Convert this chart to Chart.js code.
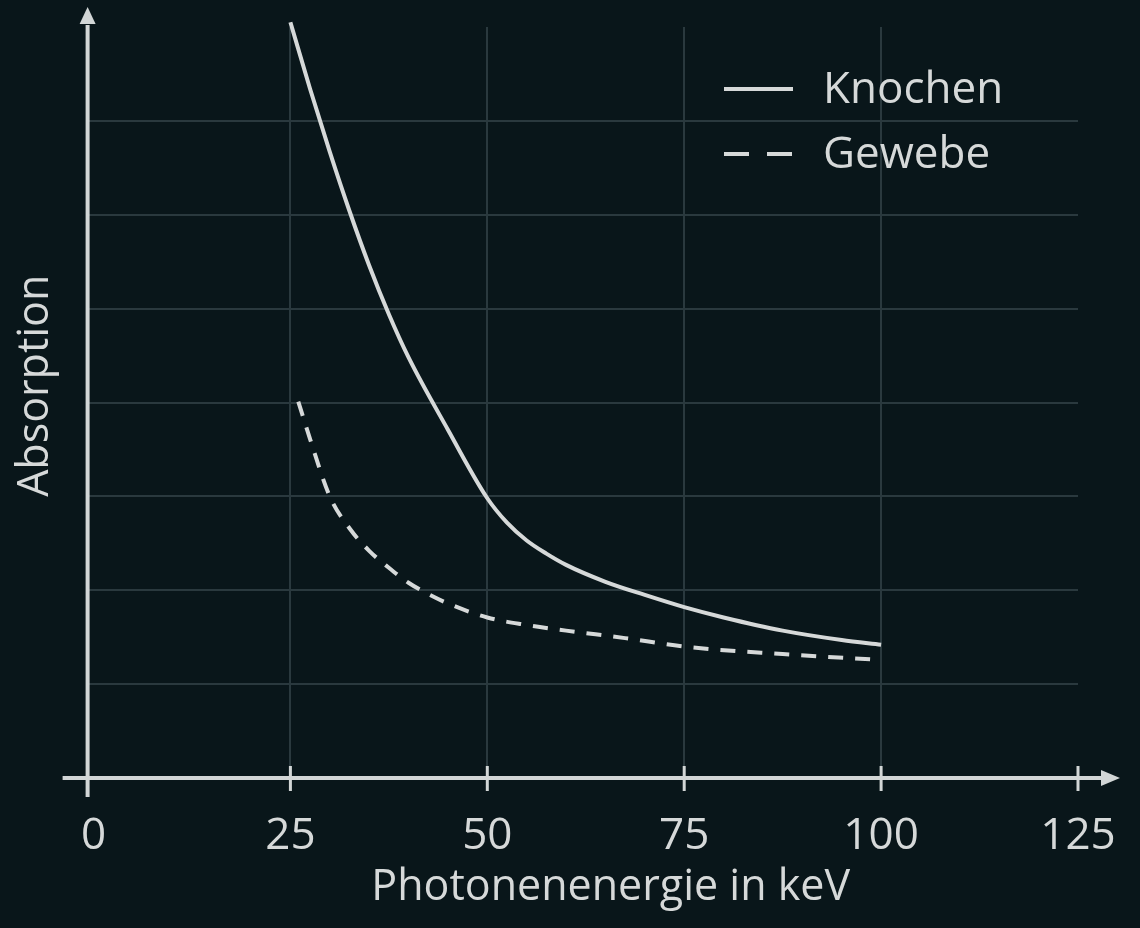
<!DOCTYPE html>
<html lang="de">
<head>
<meta charset="utf-8">
<title>Absorption</title>
<script src="https://cdn.jsdelivr.net/npm/chart.js@4"></script>
<style>
  html, body { margin: 0; padding: 0; background: #09161a; }
  #wrap { width: 1140px; height: 928px; }
</style>
</head>
<body>
<div id="wrap"><canvas id="chart" width="1140" height="928"></canvas></div>
<script>
// Tick labels of the energy axis
const xTicks = [0, 25, 50, 75, 100, 125];

// Knochen (solid line)
const knochenX = [25, 27.5, 30, 32.5, 35, 37.5, 40, 45, 50, 52.5, 55, 57.5, 60, 65, 70, 75, 80, 87.5, 95, 100];
const knochenY = [8.05, 7.34, 6.67, 6.04, 5.46, 4.94, 4.48, 3.71, 2.98, 2.72, 2.53, 2.39, 2.27, 2.09, 1.95, 1.82, 1.71, 1.57, 1.47, 1.42];

// Gewebe (dashed line)
const gewebeX = [26, 27.5, 30, 32.5, 35, 37.5, 40, 42.5, 45, 50, 55, 60, 67.5, 75, 87.5, 99.5];
const gewebeY = [4.01, 3.61, 3.00, 2.66, 2.42, 2.24, 2.08, 1.96, 1.86, 1.71, 1.63, 1.57, 1.49, 1.40, 1.32, 1.26];

const FG = '#d6d9d9';
const GRID = '#2a393e';
const FONT = '"Open Sans", "Noto Sans", sans-serif';

function toPoints(xs, ys) {
    return xs.map((x, i) => ({ x: x, y: ys[i] }));
}

// Draws both axes with arrow heads and the small ticks on the x axis
const axisArrows = {
    id: 'axisArrows',
    beforeDatasetsDraw(chart, args, opts) {
        const { ctx, chartArea } = chart;
        const xs = chart.scales.x, ys = chart.scales.y;
        const left = chartArea.left;
        const y0 = ys.getPixelForValue(0);
        ctx.save();
        ctx.strokeStyle = opts.color;
        ctx.fillStyle = opts.color;
        ctx.lineWidth = 4;
        ctx.lineCap = 'butt';

        // x axis
        ctx.beginPath();
        ctx.moveTo(left - 25, y0);
        ctx.lineTo(chartArea.right + 26, y0);
        ctx.stroke();
        ctx.beginPath();
        ctx.moveTo(chartArea.right + 42, y0);
        ctx.lineTo(chartArea.right + 23, y0 - 8);
        ctx.lineTo(chartArea.right + 23, y0 + 8);
        ctx.closePath();
        ctx.fill();

        // y axis
        ctx.beginPath();
        ctx.moveTo(left, y0 + 19);
        ctx.lineTo(left, chartArea.top - 2);
        ctx.stroke();
        ctx.beginPath();
        ctx.moveTo(left, chartArea.top - 20);
        ctx.lineTo(left - 8, chartArea.top - 3);
        ctx.lineTo(left + 8, chartArea.top - 3);
        ctx.closePath();
        ctx.fill();

        // ticks
        ctx.lineWidth = 3;
        xs.ticks.forEach(t => {
            if (t.value <= 0) return;
            const px = xs.getPixelForValue(t.value);
            ctx.beginPath();
            ctx.moveTo(px, y0 - 12);
            ctx.lineTo(px, y0 + 13);
            ctx.stroke();
        });
        ctx.restore();
    }
};

// Legend drawn inside the plot, top right
const plotLegend = {
    id: 'plotLegend',
    afterDatasetsDraw(chart, args, opts) {
        const { ctx } = chart;
        ctx.save();
        ctx.font = opts.font;
        ctx.textBaseline = 'middle';
        ctx.textAlign = 'left';
        chart.data.datasets.forEach((ds, i) => {
            const y = opts.top + i * opts.rowGap;
            ctx.strokeStyle = ds.borderColor;
            ctx.lineWidth = ds.borderWidth;
            ctx.setLineDash(ds.legendDash || []);
            ctx.beginPath();
            ctx.moveTo(opts.left, y);
            ctx.lineTo(opts.left + opts.lineWidth, y);
            ctx.stroke();
            ctx.setLineDash([]);
            ctx.fillStyle = opts.color;
            ctx.fillText(ds.label, opts.left + opts.lineWidth + 30, y + 1);
        });
        ctx.restore();
    }
};

const chart = new Chart(document.getElementById('chart'), {
    type: 'line',
    data: {
        datasets: [
            {
                label: 'Knochen',
                data: toPoints(knochenX, knochenY),
                borderColor: FG,
                borderWidth: 4,
                pointRadius: 0,
                cubicInterpolationMode: 'monotone',
                clip: false,
                legendDash: []
            },
            {
                label: 'Gewebe',
                data: toPoints(gewebeX, gewebeY),
                borderColor: FG,
                borderWidth: 4,
                borderDash: [15, 12],
                pointRadius: 0,
                cubicInterpolationMode: 'monotone',
                clip: false,
                legendDash: [25, 18]
            }
        ]
    },
    plugins: [axisArrows, plotLegend],
    options: {
        responsive: false,
        animation: false,
        events: [],
        layout: { padding: { top: 27, right: 62, left: 0, bottom: 0 } },
        plugins: {
            legend: { display: false },
            tooltip: { enabled: false },
            axisArrows: { color: '#d2d6d6' },
            plotLegend: { left: 724, top: 89, rowGap: 65, lineWidth: 69, color: FG, font: '44px ' + FONT }
        },
        scales: {
            x: {
                type: 'linear',
                min: -0.75,
                max: 125,
                afterBuildTicks: scale => { scale.ticks = xTicks.map(v => ({ value: v })); },
                afterFit: scale => {
                    scale.height = 150;
                    scale.paddingLeft = 0;
                    scale.paddingRight = 0;
                },
                border: { display: false },
                grid: {
                    drawTicks: false,
                    lineWidth: 2,
                    color: c => (c.tick && c.tick.value > 0 && c.tick.value < 125) ? GRID : 'transparent'
                },
                ticks: {
                    padding: 32,
                    color: FG,
                    font: { family: FONT, size: 44 },
                    maxRotation: 0,
                    autoSkip: false
                },
                title: {
                    display: true,
                    text: '     Photonenenergie in keV',
                    color: FG,
                    font: { family: FONT, size: 43 },
                    padding: { top: 3, bottom: 14 }
                }
            },
            y: {
                type: 'linear',
                min: 0,
                max: 8,
                border: { display: false },
                grid: {
                    drawTicks: false,
                    lineWidth: 2,
                    color: c => (c.tick && c.tick.value > 0 && c.tick.value < 8) ? GRID : 'transparent'
                },
                ticks: { display: false, stepSize: 1 },
                title: {
                    display: true,
                    text: '   Absorption',
                    color: FG,
                    font: { family: FONT, size: 43 },
                    padding: { top: 10, bottom: 26 }
                }
            }
        }
    }
});
</script>
</body>
</html>
